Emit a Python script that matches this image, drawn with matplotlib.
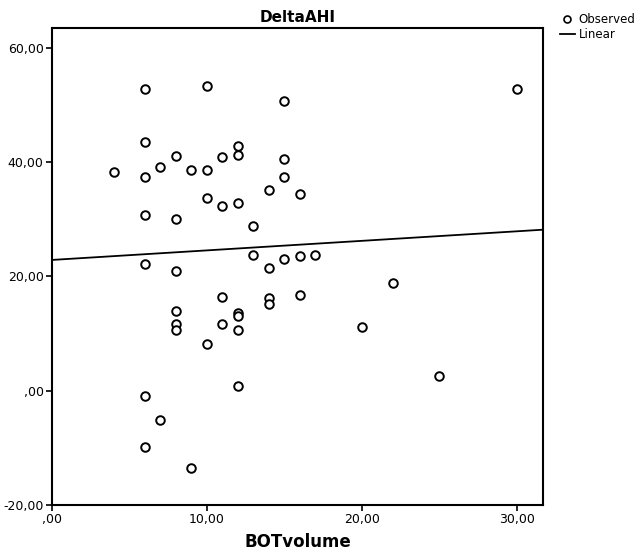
import numpy as np
import matplotlib
matplotlib.use("Agg")
import matplotlib.pyplot as plt
from matplotlib.ticker import FuncFormatter
from matplotlib.lines import Line2D

bot_volume = [4,
              6, 6, 6, 6, 6, 6, 6,
              7, 7,
              8, 8, 8, 8, 8, 8,
              9, 9,
              10, 10, 10, 10,
              11, 11, 11, 11,
              12, 12, 12, 12, 12, 12, 12,
              13, 13,
              14, 14, 14, 14,
              15, 15, 15, 15,
              16, 16, 16,
              17, 20, 22, 25, 30]
delta_ahi = [38.3,
             52.8, 43.5, 37.5, 30.8, 22.2, -0.9, -9.8,
             39.2, -5.1,
             41.1, 30.0, 20.9, 13.9, 11.7, 10.6,
             38.7, -13.6,
             53.3, 38.7, 33.8, 8.1,
             40.9, 32.3, 16.4, 11.7,
             42.9, 41.2, 32.9, 13.6, 13.1, 10.7, 0.8,
             28.8, 23.7,
             35.1, 21.4, 16.2, 15.1,
             50.8, 40.6, 37.4, 23.0,
             34.4, 23.6, 16.7,
             23.8, 11.2, 18.8, 2.5, 52.8]

# linear fit
fit_intercept = 22.9
fit_slope = 0.167

fig = plt.figure(figsize=(6.41, 5.54), dpi=100)
ax = fig.add_axes([52/641, 1 - 505/554, (543-52)/641, (505-28)/554])

ax.scatter(bot_volume, delta_ahi, s=38, facecolors='white', edgecolors='black',
           linewidths=1.4, zorder=3)

xmin, xmax = 0, 31.7
xs = np.array([xmin, xmax])
ax.plot(xs, fit_intercept + fit_slope * xs, color='black', lw=1.3, zorder=2)

ax.set_xlim(xmin, xmax)
ax.set_ylim(-20, 63.5)
ax.set_xticks([0, 10, 20, 30])
ax.set_yticks([-20, 0, 20, 40, 60])

def comma_fmt(v, pos):
    s = '%.2f' % v
    s = s.replace('.', ',')
    if s.startswith('0,'):
        s = s[1:]
    return s

ax.xaxis.set_major_formatter(FuncFormatter(comma_fmt))
ax.yaxis.set_major_formatter(FuncFormatter(comma_fmt))
ax.tick_params(direction='out', length=4, width=1.2, labelsize=9, pad=2)
for sp in ax.spines.values():
    sp.set_linewidth(1.5)

ax.set_title('DeltaAHI', fontsize=11, fontweight='bold', pad=4)
ax.set_xlabel('BOTvolume', fontsize=12, fontweight='bold', labelpad=5)

handles = [Line2D([], [], marker='o', ls='none', mfc='white', mec='black', mew=1.2, ms=5),
           Line2D([], [], color='black', lw=1.3)]
fig.legend(handles, ['Observed', 'Linear'], loc='upper left',
           bbox_to_anchor=(555/641, 1 - 8/554), frameon=False, fontsize=8.5,
           handlelength=1.3, handletextpad=0.3, labelspacing=0.2, borderaxespad=0)

fig.savefig('out.png', dpi=100)
